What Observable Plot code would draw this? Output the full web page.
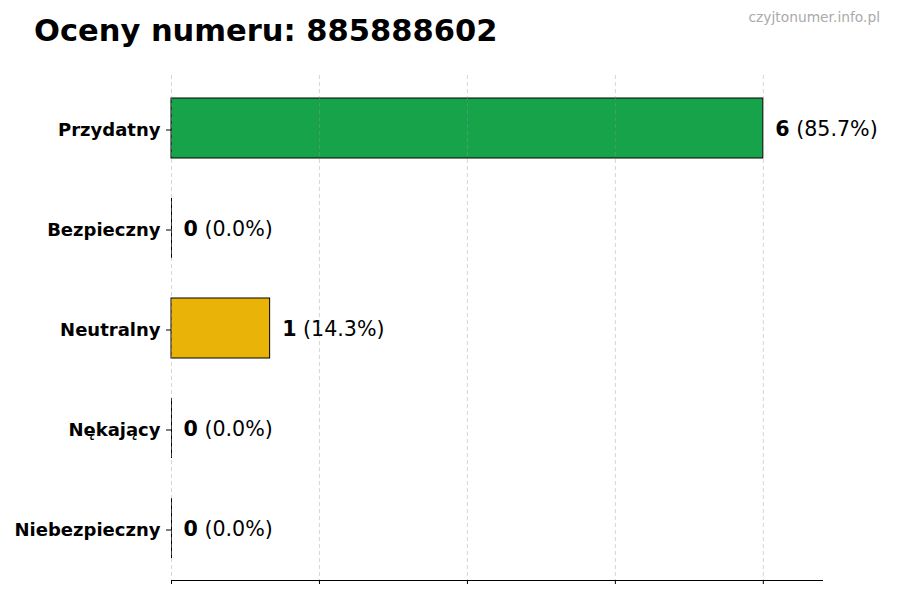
<!DOCTYPE html>
<html>
<head>
<meta charset="utf-8">
<script src="https://cdn.jsdelivr.net/npm/d3@7"></script>
<script src="https://cdn.jsdelivr.net/npm/@observablehq/plot@0.6"></script>
<style>
  html, body { margin: 0; padding: 0; background: #fff; }
  #wrap { position: relative; width: 900px; font-family: "DejaVu Sans", sans-serif; }
  #header { position: relative; height: 60px; }
  #title { position: absolute; left: 34px; top: 16px; font-size: 30.5px; line-height: 30px; font-weight: bold; color: #000; white-space: nowrap; }
  #mark { position: absolute; right: 20px; top: 10px; font-size: 13.8px; line-height: 14px; color: #aaaaaa; white-space: nowrap; }
  svg { display: block; }
</style>
</head>
<body>
<div id="wrap">
  <div id="header">
    <div id="title">Oceny numeru: 885888602</div>
    <div id="mark">czyjtonumer.info.pl</div>
  </div>
  <div id="chart"></div>
</div>
<script>
const categories = ["Przydatny", "Bezpieczny", "Neutralny", "Nękający", "Niebezpieczny"];
const counts = [6, 0, 1, 0, 0];
const percents = [85.7, 0.0, 14.3, 0.0, 0.0];
const colors = ["#16a34a", "#3b82f6", "#eab308", "#f97316", "#dc2626"];
const xTicks = [0, 1.5, 3, 4.5, 6];

const data = categories.map((c, i) => ({cat: c, count: counts[i], pct: percents[i], color: colors[i]}));

const chart = Plot.plot({
  width: 900,
  height: 540,
  marginTop: 15,
  marginBottom: 20,
  marginLeft: 171,
  marginRight: 78,
  style: {fontFamily: "DejaVu Sans", background: "#fff", color: "#000"},
  x: {domain: [0, 6.6], axis: null},
  y: {domain: categories, paddingInner: 0.4, paddingOuter: 0.225, axis: null},
  marks: [
    Plot.barX(data, {y: "cat", x1: 0, x2: "count", fill: "color", stroke: "#000", strokeWidth: 1, insetTop: 0, insetBottom: 0}),
    Plot.tickX(data.filter(d => d.count === 0), {x: 0, y: "cat", stroke: "#000", strokeWidth: 1}),
    Plot.gridX(xTicks, {stroke: "#999", strokeOpacity: 0.4, strokeDasharray: "4,3"}),
    Plot.text(data, {y: "cat", x: "count", text: d => String(d.count), textAnchor: "start", dx: 12, dy: 1, fontSize: 20.6, fontWeight: "bold", fill: "#000"}),
    Plot.text(data, {y: "cat", x: "count", text: d => `(${d.pct.toFixed(1)}%)`, textAnchor: "start", dx: 32.9, dy: 1, fontSize: 20.6, fill: "#000"}),
    Plot.axisY({tickSize: 5, tickPadding: 6, dy: 1.5, fontSize: 18, fontWeight: "bold", fill: "#000", stroke: "#000", label: null}),
    Plot.axisX({ticks: xTicks, tickFormat: () => "", tickSize: 4, stroke: "#000", label: null}),
    Plot.frame({anchor: "bottom", stroke: "#000"})
  ]
});
document.getElementById("chart").appendChild(chart);
</script>
</body>
</html>
